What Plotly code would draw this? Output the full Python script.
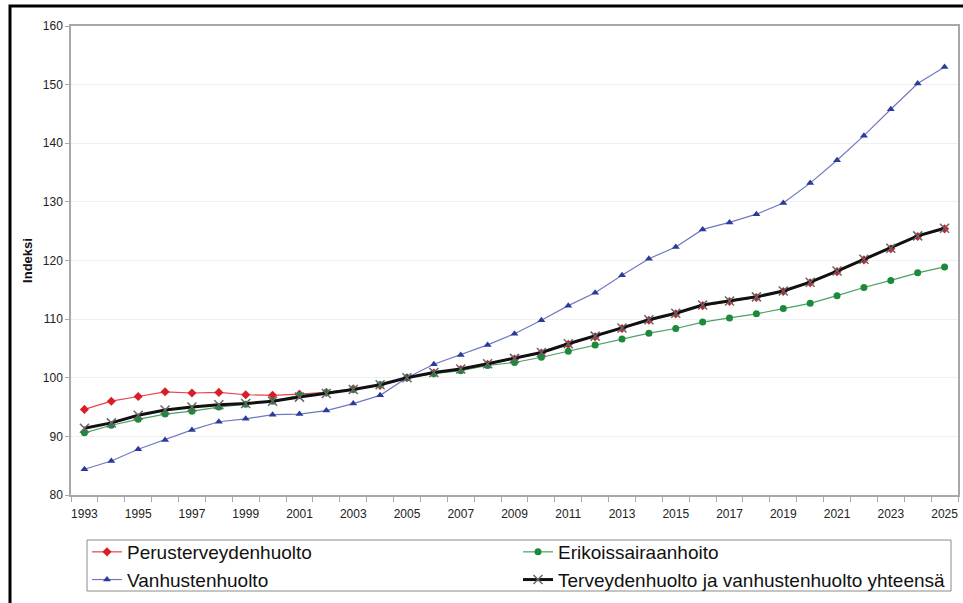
import plotly.graph_objects as go

# Index series, 2005 = 100
years = list(range(1993, 2026))

perusterveydenhuolto = [94.6, 96.0, 96.8, 97.6, 97.4, 97.5, 97.1, 97.0, 97.2, 97.5,
                        98.1, 98.7, 100.0, 100.8, 101.4, 102.3, 103.2, 104.2, 105.7, 107.0,
                        108.4, 109.8, 110.9, 112.3, 113.0, 113.7, 114.7, 116.2, 118.1, 120.1,
                        122.0, 124.1, 125.4]

erikoissairaanhoito = [90.6, 91.9, 92.9, 93.8, 94.3, 95.0, 95.5, 96.0, 97.0, 97.5,
                       98.0, 98.8, 100.0, 100.7, 101.2, 102.1, 102.6, 103.5, 104.5, 105.6,
                       106.6, 107.6, 108.4, 109.5, 110.2, 110.9, 111.8, 112.7, 114.0, 115.4,
                       116.6, 117.9, 118.9]

vanhustenhuolto = [84.4, 85.8, 87.8, 89.4, 91.1, 92.5, 93.0, 93.7, 93.8, 94.4,
                   95.6, 97.0, 100.0, 102.3, 103.9, 105.6, 107.5, 109.8, 112.3, 114.5,
                   117.5, 120.3, 122.3, 125.3, 126.5, 127.9, 129.8, 133.2, 137.1, 141.3,
                   145.8, 150.2, 153.0]

yhteensa = [91.4, 92.3, 93.6, 94.5, 95.0, 95.4, 95.6, 96.0, 96.7, 97.3,
            98.0, 98.8, 100.0, 100.9, 101.5, 102.4, 103.3, 104.3, 105.8, 107.1,
            108.5, 109.9, 111.0, 112.4, 113.1, 113.8, 114.8, 116.3, 118.2, 120.2,
            122.1, 124.2, 125.5]

x_labels = list(range(1993, 2026, 2))
y_ticks = [80, 90, 100, 110, 120, 130, 140, 150, 160]

FONT = "Liberation Sans, Arial, sans-serif"

# plot area in pixels: left 71, right 958, top 26, bottom 495
PL, PR, PT, PB = 71, 958, 26, 495
PW, PH = PR - PL, PB - PT


def px_x(p):
    return (p - PL) / PW


def px_y(p):
    return (PB - p) / PH


fig = go.Figure()

fig.add_trace(go.Scatter(
    x=years, y=perusterveydenhuolto, name="Perusterveydenhuolto",
    mode="lines+markers", legendrank=1,
    line=dict(color="#e5444a", width=1.2),
    marker=dict(symbol="diamond", size=7, color="#d81e28"),
))
fig.add_trace(go.Scatter(
    x=years, y=erikoissairaanhoito, name="Erikoissairaanhoito",
    mode="lines+markers", legendrank=2,
    line=dict(color="#4c9f62", width=1.2),
    marker=dict(symbol="circle", size=7, color="#1d8a3b"),
))
fig.add_trace(go.Scatter(
    x=years, y=vanhustenhuolto, name="Vanhustenhuolto",
    mode="lines+markers", legendrank=3,
    line=dict(color="#6f79c2", width=1.2),
    marker=dict(symbol="triangle-up", size=7, color="#2a3c9a"),
))
fig.add_trace(go.Scatter(
    x=years, y=yhteensa, name="Terveydenhuolto ja vanhustenhuolto yhteensä",
    mode="lines+markers", legendrank=4,
    line=dict(color="#111111", width=3),
    marker=dict(symbol="x-thin", size=9, color="#555555",
                line=dict(color="#666666", width=1.5)),
))

# Outer black frame around the figure
fig.add_shape(type="rect", xref="paper", yref="paper",
              x0=px_x(10), x1=1.2, y0=-0.5, y1=px_y(6),
              line=dict(color="black", width=3), fillcolor="rgba(0,0,0,0)",
              layer="above")

# Legend box
fig.add_shape(type="rect", xref="paper", yref="paper",
              x0=px_x(87), x1=px_x(951), y0=px_y(591), y1=px_y(540),
              line=dict(color="#8a8a8a", width=1), fillcolor="rgba(0,0,0,0)",
              layer="above")

fig.update_layout(
    width=963, height=603,
    margin=dict(l=PL, r=963 - PR, t=PT, b=603 - PB, autoexpand=False),
    paper_bgcolor="white", plot_bgcolor="white",
    font=dict(family=FONT, color="#222222", size=12),
    showlegend=True,
    legend=dict(
        orientation="h", x=px_x(87), xanchor="left", y=px_y(533), yanchor="top",
        entrywidth=386, entrywidthmode="pixels",
        font=dict(family=FONT, size=19, color="#111111"),
        borderwidth=0, bgcolor="rgba(0,0,0,0)",
        traceorder="normal", tracegroupgap=0,
    ),
    xaxis=dict(
        range=[1992.5, 2025.5], tickmode="array", tickvals=x_labels,
        ticktext=[str(v) for v in x_labels],
        ticks="outside", ticklen=7, tickcolor="rgba(0,0,0,0)",
        tickfont=dict(size=12, color="#222222"),
        showline=True, linecolor="#a8a8a8", linewidth=1.5, mirror=True,
        showgrid=False, zeroline=False,
        minor=dict(tickmode="array", tickvals=[y + 0.5 for y in range(1992, 2026)],
                   ticks="outside", ticklen=5, tickcolor="#a8a8a8", tickwidth=1,
                   showgrid=False),
    ),
    yaxis=dict(
        range=[80, 160], tickmode="array", tickvals=y_ticks,
        ticks="outside", ticklen=4, tickcolor="#a8a8a8",
        tickfont=dict(size=12, color="#222222"),
        showline=True, linecolor="#a8a8a8", linewidth=1.5, mirror=True,
        showgrid=True, gridcolor="#f0f0f0", gridwidth=1, zeroline=False,
        title=dict(text="<b>Indeksi</b>", font=dict(size=13, color="#111111"), standoff=7),
    ),
)

fig.write_html("out.html")
